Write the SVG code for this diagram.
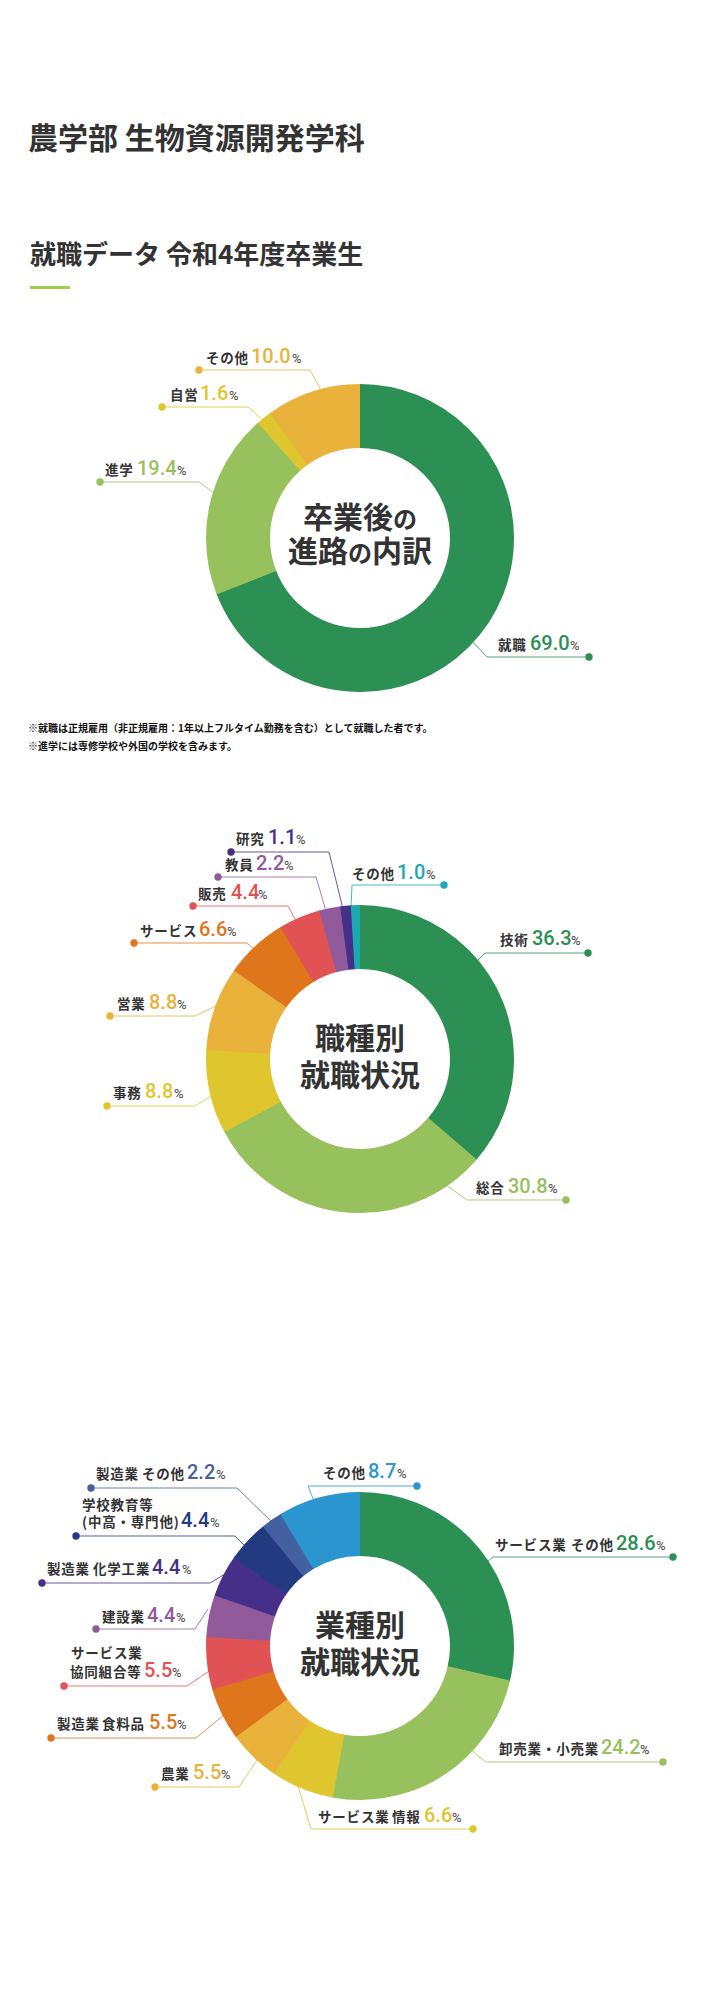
<svg xmlns="http://www.w3.org/2000/svg" width="720" height="1999" viewBox="0 0 720 1999">
<style>
.t{font-family:"Noto Sans CJK JP","Noto Sans",sans-serif}
.h{font-size:30px;font-weight:700;fill:#333}
.h2{font-size:26px;font-weight:700;fill:#333}
.c{font-size:30px;font-weight:700;fill:#333;text-anchor:middle}
.sm{font-size:24px}
.l{font-size:13.5px;font-weight:700;fill:#333;letter-spacing:.8px}
.nt{font-size:10px;font-weight:700;fill:#111}
.n{font-family:Roboto,"Noto Sans",sans-serif;font-size:20px;font-weight:500;fill:currentColor}
.p{font-family:Roboto,"Noto Sans",sans-serif;font-size:13px;fill:#444}
.s{fill:none;stroke:currentColor;stroke-width:64}
.ld{fill:none;stroke:currentColor;stroke-width:1;opacity:.8}
.dt{fill:currentColor}
.k1{color:#2c8f53}.k2{color:#97c15c}.k3{color:#dfc62f}.k4{color:#e8b23b}
.k5{color:#e0761b}.k6{color:#e05253}.k7{color:#915a9b}.k8{color:#452f88}
.k9{color:#1ca9b2}.k10{color:#233a80}.k11{color:#4560a0}.k12{color:#2a95ce}
</style>
<rect width="720" height="1999" fill="#fff"/>

<g id="title">
<text class="t h" x="28" y="149">農学部 生物資源開発学科</text>
<text class="t h2" x="30" y="264">就職データ 令和4年度卒業生</text>
<rect x="30" y="286" width="40" height="3" fill="#9cd04f"/>
</g>

<g id="connectors">
<g class="k4"><path class="ld" d="M199,370 H310 L322,392"/><circle class="dt" cx="199" cy="370" r="3.7"/></g>
<g class="k3"><path class="ld" d="M162,407 H248 L264,421"/><circle class="dt" cx="162" cy="407" r="3.7"/></g>
<g class="k2"><path class="ld" d="M100,482 H199 L214,493"/><circle class="dt" cx="100" cy="482" r="3.7"/></g>
<g class="k1"><path class="ld" d="M472,641 L487,657 H589"/><circle class="dt" cx="589" cy="657" r="3.7"/></g>

<g class="k1"><path class="ld" d="M476,962 L485,953 H588"/><circle class="dt" cx="588" cy="953" r="3.7"/></g>
<g class="k2"><path class="ld" d="M446,1185 L467,1200 H566"/><circle class="dt" cx="566" cy="1200" r="3.7"/></g>
<g class="k3"><path class="ld" d="M107,1106 H195 L211,1096"/><circle class="dt" cx="107" cy="1106" r="3.7"/></g>
<g class="k4"><path class="ld" d="M110,1016 H195 L216,1006"/><circle class="dt" cx="110" cy="1016" r="3.7"/></g>
<g class="k5"><path class="ld" d="M134,943 H247 L255,950"/><circle class="dt" cx="134" cy="943" r="3.7"/></g>
<g class="k6"><path class="ld" d="M193,906 H288 L296,921"/><circle class="dt" cx="193" cy="906" r="3.7"/></g>
<g class="k7"><path class="ld" d="M218,877 H316 L326,911"/><circle class="dt" cx="218" cy="877" r="3.7"/></g>
<g class="k8"><path class="ld" d="M231,852 H329 L343,909"/><circle class="dt" cx="231" cy="852" r="3.7"/></g>
<g class="k9"><path class="ld" d="M444,885 H352 L351,908"/><circle class="dt" cx="444" cy="885" r="3.7"/></g>

<g class="k1"><path class="ld" d="M486,1563 L493,1557 H673"/><circle class="dt" cx="673" cy="1557" r="3.7"/></g>
<g class="k2"><path class="ld" d="M471,1750 L486,1762 H663"/><circle class="dt" cx="663" cy="1762" r="3.7"/></g>
<g class="k3"><path class="ld" d="M298,1786 L311,1829 H473"/><circle class="dt" cx="473" cy="1829" r="3.7"/></g>
<g class="k4"><path class="ld" d="M155,1787 H239 L257,1760"/><circle class="dt" cx="155" cy="1787" r="3.7"/></g>
<g class="k5"><path class="ld" d="M51,1738 H196 L224,1715"/><circle class="dt" cx="51" cy="1738" r="3.7"/></g>
<g class="k6"><path class="ld" d="M64,1686 H187 L209,1671"/><circle class="dt" cx="64" cy="1686" r="3.7"/></g>
<g class="k7"><path class="ld" d="M96,1629 H195 L208,1609"/><circle class="dt" cx="96" cy="1629" r="3.7"/></g>
<g class="k8"><path class="ld" d="M42,1583 H210 L225,1574"/><circle class="dt" cx="42" cy="1583" r="3.7"/></g>
<g class="k10"><path class="ld" d="M76,1536 H235 L245,1546"/><circle class="dt" cx="76" cy="1536" r="3.7"/></g>
<g class="k11"><path class="ld" d="M91,1488 H237 L272,1522"/><circle class="dt" cx="91" cy="1488" r="3.7"/></g>
<g class="k12"><path class="ld" d="M417,1486 H308 L314,1501"/><circle class="dt" cx="417" cy="1486" r="3.7"/></g>
</g>

<!-- Chart 1 -->
<g id="chart1">
<g id="c1-shushoku" class="k1">
<circle class="s" cx="360" cy="538" r="122" stroke-dasharray="529.7 2000" stroke-dashoffset="0" transform="rotate(-90 360 538)"/>
<text class="t l" x="498" y="650">就職</text><text class="n" x="530" y="650">69.0</text><text class="p" x="570" y="650">%</text>
</g>
<g id="c1-shingaku" class="k2">
<circle class="s" cx="360" cy="538" r="122" stroke-dasharray="149.5 2000" stroke-dashoffset="-528.92" transform="rotate(-90 360 538)"/>
<text class="t l" x="105" y="475">進学</text><text class="n" x="137" y="475">19.4</text><text class="p" x="177" y="475">%</text>
</g>
<g id="c1-jiei" class="k3">
<circle class="s" cx="360" cy="538" r="122" stroke-dasharray="13 2000" stroke-dashoffset="-677.63" transform="rotate(-90 360 538)"/>
<text class="t l" x="170" y="400">自営</text><text class="n" x="200" y="400">1.6</text><text class="p" x="229" y="400">%</text>
</g>
<g id="c1-sonota" class="k4">
<circle class="s" cx="360" cy="538" r="122" stroke-dasharray="76.66 2000" stroke-dashoffset="-689.89" transform="rotate(-90 360 538)"/>
<text class="t l" x="206" y="363">その他</text><text class="n" x="251" y="363">10.0</text><text class="p" x="292" y="363">%</text>
</g>
<g id="c1-center">
<text class="t c" x="360" y="528">卒業後<tspan class="sm">の</tspan></text>
<text class="t c" x="360" y="562">進路<tspan class="sm">の</tspan>内訳</text>
</g>
</g>

<g id="notes">
<text class="t nt" x="28" y="732">※就職は正規雇用（非正規雇用：1年以上フルタイム勤務を含む）として就職した者です。</text>
<text class="t nt" x="28" y="750">※進学には専修学校や外国の学校を含みます。</text>
</g>

<!-- Chart 2 -->
<g id="chart2">
<g id="c2-gijutsu" class="k1">
<circle class="s" cx="360" cy="1059" r="122" stroke-dasharray="279 2000" stroke-dashoffset="0" transform="rotate(-90 360 1059)"/>
<text class="t l" x="500" y="945">技術</text><text class="n" x="532" y="945">36.3</text><text class="p" x="571" y="945">%</text>
</g>
<g id="c2-sogo" class="k2">
<circle class="s" cx="360" cy="1059" r="122" stroke-dasharray="236.9 2000" stroke-dashoffset="-278.26" transform="rotate(-90 360 1059)"/>
<text class="t l" x="476" y="1193">総合</text><text class="n" x="508" y="1193">30.8</text><text class="p" x="548" y="1193">%</text>
</g>
<g id="c2-jimu" class="k3">
<circle class="s" cx="360" cy="1059" r="122" stroke-dasharray="68.2 2000" stroke-dashoffset="-514.36" transform="rotate(-90 360 1059)"/>
<text class="t l" x="113" y="1098">事務</text><text class="n" x="145" y="1098">8.8</text><text class="p" x="174" y="1098">%</text>
</g>
<g id="c2-eigyo" class="k4">
<circle class="s" cx="360" cy="1059" r="122" stroke-dasharray="68.2 2000" stroke-dashoffset="-581.81" transform="rotate(-90 360 1059)"/>
<text class="t l" x="117" y="1009">営業</text><text class="n" x="149" y="1009">8.8</text><text class="p" x="177" y="1009">%</text>
</g>
<g id="c2-service" class="k5">
<circle class="s" cx="360" cy="1059" r="122" stroke-dasharray="51.3 2000" stroke-dashoffset="-649.27" transform="rotate(-90 360 1059)"/>
<text class="t l" x="140" y="936">サービス</text><text class="n" x="199" y="936">6.6</text><text class="p" x="227" y="936">%</text>
</g>
<g id="c2-hanbai" class="k6">
<circle class="s" cx="360" cy="1059" r="122" stroke-dasharray="34.5 2000" stroke-dashoffset="-699.86" transform="rotate(-90 360 1059)"/>
<text class="t l" x="198" y="899">販売</text><text class="n" x="231" y="899">4.4</text><text class="p" x="258" y="899">%</text>
</g>
<g id="c2-kyoin" class="k7">
<circle class="s" cx="360" cy="1059" r="122" stroke-dasharray="17.6 2000" stroke-dashoffset="-733.59" transform="rotate(-90 360 1059)"/>
<text class="t l" x="225" y="870">教員</text><text class="n" x="256" y="870">2.2</text><text class="p" x="284" y="870">%</text>
</g>
<g id="c2-kenkyu" class="k8">
<circle class="s" cx="360" cy="1059" r="122" stroke-dasharray="9.2 2000" stroke-dashoffset="-750.45" transform="rotate(-90 360 1059)"/>
<text class="t l" x="236" y="844">研究</text><text class="n" x="268" y="844">1.1</text><text class="p" x="296" y="844">%</text>
</g>
<g id="c2-sonota" class="k9">
<circle class="s" cx="360" cy="1059" r="122" stroke-dasharray="7.67 2000" stroke-dashoffset="-758.88" transform="rotate(-90 360 1059)"/>
<text class="t l" x="352" y="879">その他</text><text class="n" x="397" y="879">1.0</text><text class="p" x="426" y="879">%</text>
</g>
<g id="c2-center">
<text class="t c" x="360" y="1049">職種別</text>
<text class="t c" x="360" y="1086">就職状況</text>
</g>
</g>

<!-- Chart 3 -->
<g id="chart3">
<g id="c3-service-other" class="k1">
<circle class="s" cx="360" cy="1646" r="122" stroke-dasharray="220 2000" stroke-dashoffset="0" transform="rotate(-90 360 1646)"/>
<text class="t l" x="495" y="1550">サービス業</text><text class="t l" x="571" y="1550">その他</text><text class="n" x="616" y="1550">28.6</text><text class="p" x="656" y="1550">%</text>
</g>
<g id="c3-oroshi" class="k2">
<circle class="s" cx="360" cy="1646" r="122" stroke-dasharray="186.3 2000" stroke-dashoffset="-219.23" transform="rotate(-90 360 1646)"/>
<text class="t l" x="499" y="1754">卸売業・小売業</text><text class="n" x="601" y="1754">24.2</text><text class="p" x="640" y="1754">%</text>
</g>
<g id="c3-joho" class="k3">
<circle class="s" cx="360" cy="1646" r="122" stroke-dasharray="51.3 2000" stroke-dashoffset="-404.74" transform="rotate(-90 360 1646)"/>
<text class="t l" x="318" y="1822">サービス業</text><text class="t l" x="392" y="1822">情報</text><text class="n" x="424" y="1822">6.6</text><text class="p" x="452" y="1822">%</text>
</g>
<g id="c3-nogyo" class="k4">
<circle class="s" cx="360" cy="1646" r="122" stroke-dasharray="42.9 2000" stroke-dashoffset="-455.33" transform="rotate(-90 360 1646)"/>
<text class="t l" x="161" y="1779">農業</text><text class="n" x="193" y="1779">5.5</text><text class="p" x="221" y="1779">%</text>
</g>
<g id="c3-shokuryo" class="k5">
<circle class="s" cx="360" cy="1646" r="122" stroke-dasharray="42.9 2000" stroke-dashoffset="-497.49" transform="rotate(-90 360 1646)"/>
<text class="t l" x="57" y="1729">製造業</text><text class="t l" x="102" y="1729">食料品</text><text class="n" x="149" y="1729">5.5</text><text class="p" x="177" y="1729">%</text>
</g>
<g id="c3-kyodo" class="k6">
<circle class="s" cx="360" cy="1646" r="122" stroke-dasharray="42.9 2000" stroke-dashoffset="-539.65" transform="rotate(-90 360 1646)"/>
<text class="t l" x="71" y="1658">サービス業</text>
<text class="t l" x="70" y="1677">協同組合等</text><text class="n" x="144" y="1677">5.5</text><text class="p" x="172" y="1677">%</text>
</g>
<g id="c3-kensetsu" class="k7">
<circle class="s" cx="360" cy="1646" r="122" stroke-dasharray="34.5 2000" stroke-dashoffset="-581.81" transform="rotate(-90 360 1646)"/>
<text class="t l" x="102" y="1622">建設業</text><text class="n" x="147" y="1622">4.4</text><text class="p" x="176" y="1622">%</text>
</g>
<g id="c3-kagaku" class="k8">
<circle class="s" cx="360" cy="1646" r="122" stroke-dasharray="34.5 2000" stroke-dashoffset="-615.54" transform="rotate(-90 360 1646)"/>
<text class="t l" x="47" y="1574">製造業</text><text class="t l" x="93" y="1574">化学工業</text><text class="n" x="152" y="1574">4.4</text><text class="p" x="182" y="1574">%</text>
</g>
<g id="c3-gakko" class="k10">
<circle class="s" cx="360" cy="1646" r="122" stroke-dasharray="34.5 2000" stroke-dashoffset="-649.27" transform="rotate(-90 360 1646)"/>
<text class="t l" x="82" y="1510">学校教育等</text>
<text class="t l" x="82" y="1527">(中高・専門他)</text><text class="n" x="181" y="1527">4.4</text><text class="p" x="210" y="1527">%</text>
</g>
<g id="c3-seizo-other" class="k11">
<circle class="s" cx="360" cy="1646" r="122" stroke-dasharray="17.6 2000" stroke-dashoffset="-683.0" transform="rotate(-90 360 1646)"/>
<text class="t l" x="96" y="1479">製造業</text><text class="t l" x="142" y="1479">その他</text><text class="n" x="187" y="1479">2.2</text><text class="p" x="216" y="1479">%</text>
</g>
<g id="c3-sonota" class="k12">
<circle class="s" cx="360" cy="1646" r="122" stroke-dasharray="66.69 2000" stroke-dashoffset="-699.86" transform="rotate(-90 360 1646)"/>
<text class="t l" x="323" y="1478">その他</text><text class="n" x="368" y="1478">8.7</text><text class="p" x="397" y="1478">%</text>
</g>
<g id="c3-center">
<text class="t c" x="360" y="1636">業種別</text>
<text class="t c" x="360" y="1673">就職状況</text>
</g>
</g>
</svg>
